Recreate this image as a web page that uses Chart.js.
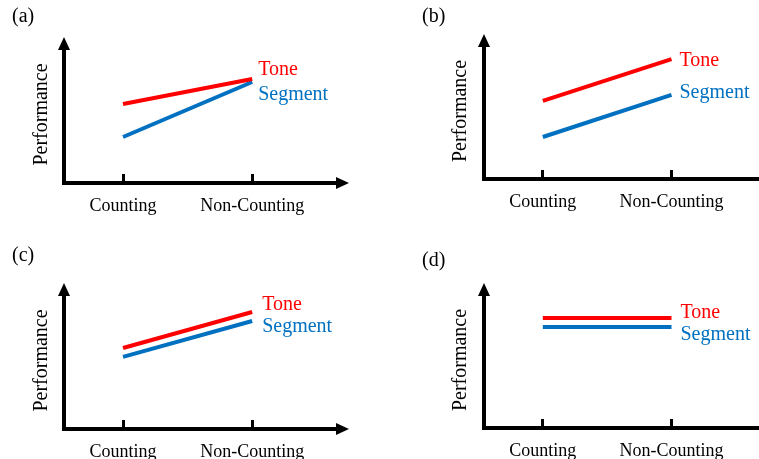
<!DOCTYPE html>
<html><head><meta charset="utf-8">
<script src="https://cdn.jsdelivr.net/npm/chart.js@4.4.1/dist/chart.umd.min.js"></script>
<style>
html,body{margin:0;padding:0;background:#fff;}
#wrap{position:relative;width:759px;height:459px;overflow:hidden;background:#fff;}
canvas{position:absolute;}
</style></head><body>
<div id="wrap">
<canvas id="ca" width="380" height="230" style="left:0;top:0;width:380px;height:230px"></canvas>
<canvas id="cb" width="379" height="230" style="left:380px;top:0;width:379px;height:230px"></canvas>
<canvas id="cc" width="380" height="229" style="left:0;top:230px;width:380px;height:229px"></canvas>
<canvas id="cd" width="379" height="229" style="left:380px;top:230px;width:379px;height:229px"></canvas>
</div>
<script>
// ---- data ----
const categories = ['Counting', 'Non-Counting'];
const seriesNames = ['Tone', 'Segment'];
const panelLetters = ['(a)', '(b)', '(c)', '(d)'];
const yTitle = 'Performance';
const toneA = [57.7, 75.9];
const segmentA = [33.6, 73.7];
const toneB = [57.4, 88.2];
const segmentB = [30.9, 61.8];
const toneC = [59.1, 85.4];
const segmentC = [52.6, 78.8];
const toneD = [80.9, 80.9];
const segmentD = [74.3, 74.3];

// ---- styles / layout ----
const RED = '#FF0000';
const BLUE = '#0070C0';
const FONT = "'Liberation Serif', 'Times New Roman', serif";

const panels = [
  {id:'ca', tone:toneA, seg:segmentA, letter:panelLetters[0], pad:{left:30, top:46, right:40, bottom:0}, yW:34, xH:47, xArrow:true, dx:6, dy:[-9,13], lx:12, ly:17},
  {id:'cb', tone:toneB, seg:segmentB, letter:panelLetters[1], pad:{left:69, top:43, right:0, bottom:0}, yW:35, xH:51, xArrow:false, dx:8, dy:[2,-2], lx:42, ly:17},
  {id:'cc', tone:toneC, seg:segmentC, letter:panelLetters[2], pad:{left:30, top:62, right:40, bottom:0}, yW:34, xH:30, xArrow:true, dx:10, dy:[-7,6], lx:12, ly:26},
  {id:'cd', tone:toneD, seg:segmentD, letter:panelLetters[3], pad:{left:69, top:62, right:0, bottom:0}, yW:35, xH:31, xArrow:false, dx:9, dy:[-5,8], lx:42, ly:31}
];

const decor = {
  id: 'decor',
  afterDraw(chart, args, opts) {
    const ctx = chart.ctx, ca = chart.chartArea;
    ctx.save();
    ctx.fillStyle = '#000';
    ctx.beginPath();
    ctx.moveTo(ca.left, ca.top - 9);
    ctx.lineTo(ca.left - 6, ca.top + 4);
    ctx.lineTo(ca.left + 6, ca.top + 4);
    ctx.closePath(); ctx.fill();
    if (opts.xArrow) {
      ctx.beginPath();
      ctx.moveTo(ca.right + 9, ca.bottom);
      ctx.lineTo(ca.right - 4, ca.bottom - 6);
      ctx.lineTo(ca.right - 4, ca.bottom + 6);
      ctx.closePath(); ctx.fill();
    }
    ctx.font = '20px ' + FONT;
    ctx.textAlign = 'left';
    ctx.textBaseline = 'middle';
    chart.data.datasets.forEach((ds, i) => {
      const meta = chart.getDatasetMeta(i);
      const last = meta.data[meta.data.length - 1];
      ctx.fillStyle = ds.borderColor;
      ctx.fillText(ds.label, last.x + opts.dx, last.y + opts.dy[i]);
    });
    ctx.fillStyle = '#000';
    ctx.fillText(opts.letter, opts.lx, opts.ly);
    ctx.restore();
  }
};

panels.forEach(p => {
  const mk = (vals) => categories.map((c, i) => ({x: i + 1, y: vals[i]}));
  new Chart(document.getElementById(p.id), {
    type: 'line',
    data: {
      datasets: [
        {label: seriesNames[0], data: mk(p.tone), borderColor: RED, borderWidth: 4, pointRadius: 0, fill: false, tension: 0},
        {label: seriesNames[1], data: mk(p.seg), borderColor: BLUE, borderWidth: 4, pointRadius: 0, fill: false, tension: 0}
      ]
    },
    options: {
      responsive: false,
      animation: false,
      devicePixelRatio: 1,
      layout: {padding: p.pad, autoPadding: false},
      plugins: {
        legend: {display: false},
        tooltip: {enabled: false},
        decor: {xArrow: p.xArrow, dx: p.dx, dy: p.dy, letter: p.letter, lx: p.lx, ly: p.ly}
      },
      scales: {
        x: {
          type: 'linear', min: 0.543, max: 2.68,
          afterBuildTicks: s => { s.ticks = categories.map((c, i) => ({value: i + 1})); },
          afterFit: s => { s.height = p.xH; },
          grid: {display: true, drawOnChartArea: false, drawTicks: true, tickLength: -9, tickWidth: 3, tickColor: '#000'},
          border: {display: true, color: '#000', width: 4},
          ticks: {padding: 21, color: '#000', font: {family: FONT, size: 18}, maxRotation: 0, autoSkip: false,
                  callback: v => categories[v - 1]}
        },
        y: {
          min: 0, max: 100,
          afterFit: s => { s.width = p.yW; },
          grid: {display: false, drawTicks: false},
          border: {display: true, color: '#000', width: 4},
          ticks: {display: false},
          title: {display: true, text: yTitle, color: '#000', font: {family: FONT, size: 20}, padding: {top: 0, bottom: 0}}
        }
      }
    },
    plugins: [decor]
  });
});
</script>
</body></html>
